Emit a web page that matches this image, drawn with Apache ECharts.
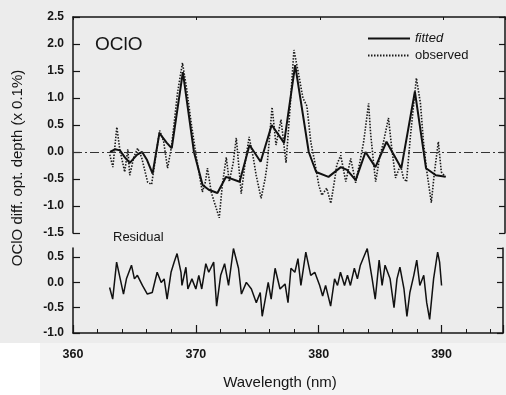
<!DOCTYPE html>
<html><head><meta charset="utf-8">
<script src="https://cdn.jsdelivr.net/npm/echarts@6/dist/echarts.min.js"></script>
<style>html,body{margin:0;padding:0;background:#ececec}#c{width:506px;height:395px}</style>
</head><body><div id="c"></div>
<script>
// ---- data ----
const fittedWl = [363.0,363.4,363.8,364.2,364.6,365.2,365.6,366.0,366.45,367.0,367.6,368.0,368.9,369.8,370.5,371.0,371.7,372.4,373.5,374.3,375.2,376.1,377.1,378.0,379.1,379.7,380.7,381.7,382.2,382.9,383.7,384.5,385.4,386.6,387.7,388.6,389.4,390.2];
const fittedVal = [0.0,0.05,0.03,-0.1,-0.2,-0.05,0.0,-0.15,-0.4,0.35,0.17,0.07,1.48,0.0,-0.61,-0.7,-0.76,-0.46,-0.55,0.13,-0.18,0.5,0.17,1.61,0.0,-0.37,-0.46,-0.28,-0.33,-0.52,0.0,-0.28,0.19,-0.3,1.12,-0.3,-0.43,-0.46];

const observedWl = [362.98,363.23,363.55,363.79,364.19,364.44,364.6,364.92,365.24,365.56,366.05,366.37,366.69,367.02,367.34,367.66,367.98,368.47,368.87,369.19,369.6,370.0,370.48,370.73,370.89,371.21,371.45,371.85,372.1,372.42,372.66,372.98,373.23,373.63,373.95,374.27,374.6,374.84,375.24,375.56,375.73,376.13,376.45,376.85,377.26,377.58,377.9,378.23,378.63,378.95,379.27,379.6,379.92,380.16,380.56,380.89,381.21,381.37,381.69,382.1,382.5,382.9,383.23,383.55,383.95,384.11,384.35,384.52,384.84,385.16,385.56,385.81,386.13,386.53,386.77,387.02,387.34,387.82,388.15,388.39,388.63,389.03,389.27,389.6,389.84,390.16];
const observedVal = [-0.05,-0.28,0.46,0.05,-0.37,0.05,-0.43,-0.1,0.07,-0.1,-0.56,-0.6,-0.1,0.4,0.2,-0.3,0.1,1.1,1.65,1.2,0.5,-0.1,-0.74,-0.55,-0.3,-0.75,-0.93,-1.22,-0.6,-0.1,-0.55,-0.2,0.26,-0.77,-0.2,0.28,-0.1,-0.43,-0.86,-0.5,-0.24,0.83,0.13,0.6,-0.2,0.8,1.89,1.5,1.0,0.85,0.18,-0.2,-0.62,-0.8,-0.67,-0.95,-0.5,-0.24,-0.06,-0.55,-0.12,-0.57,-0.2,0.19,0.9,0.35,-0.2,-0.55,-0.1,0.19,0.63,0.1,-0.48,-0.24,-0.48,-0.55,0.3,1.37,0.9,0.2,-0.3,-0.94,-0.4,0.19,-0.37,-0.46];

const residualWl = [362.98,363.23,363.55,363.87,364.11,364.35,364.76,365.0,365.24,365.65,366.05,366.45,366.85,367.18,367.42,367.66,367.98,368.23,368.47,368.79,368.87,369.19,369.35,369.68,370.0,370.24,370.48,370.81,371.05,371.45,371.69,372.02,372.34,372.66,373.06,373.47,373.71,374.11,374.52,374.92,375.24,375.4,375.65,375.89,376.13,376.45,376.85,377.26,377.5,377.74,378.06,378.31,378.55,378.95,379.35,379.68,380.08,380.32,380.56,380.97,381.29,381.53,381.77,382.1,382.34,382.58,382.9,383.15,383.39,383.95,384.35,384.6,384.92,385.16,385.4,385.81,386.13,386.37,386.61,386.94,387.18,387.42,387.74,387.98,388.23,388.55,388.79,389.03,389.35,389.68,389.84,390.0];
const residualVal = [-0.1,-0.33,0.4,0.04,-0.23,0.07,0.34,0.07,0.14,-0.06,-0.23,-0.2,0.2,0.0,0.07,-0.33,0.2,0.4,0.57,0.2,-0.06,0.3,-0.13,0.07,-0.13,0.14,-0.13,0.37,0.2,0.4,-0.47,0.14,0.37,-0.06,0.67,0.28,-0.23,0.0,-0.13,-0.4,-0.2,-0.67,-0.33,0.0,-0.33,0.28,-0.13,-0.03,-0.4,0.28,0.2,0.47,-0.06,0.6,0.14,0.2,-0.06,-0.27,-0.06,-0.47,0.07,-0.06,0.2,-0.06,0.14,-0.06,0.28,0.07,0.34,0.67,0.07,-0.33,0.44,-0.06,0.34,0.07,-0.5,0.07,0.3,-0.13,-0.67,-0.2,0.14,0.44,-0.06,0.14,-0.4,-0.73,0.07,0.6,0.4,-0.06];

const xTicks = [360,370,380,390];
const topYTicks = [-1.5,-1.0,-0.5,0.0,0.5,1.0,1.5,2.0,2.5];
const resYTicks = [-1.0,-0.5,0.0,0.5];

const pairs = (a,b)=>a.map((v,i)=>[v,b[i]]);
const FONT = '"Liberation Sans", Arial, sans-serif';
const INK = '#151515';

const axisLine = {show:true, onZero:false, lineStyle:{color:INK, width:1.5}};
const lbl = (ticks)=>({show:true, margin:9, color:INK, fontFamily:FONT, fontSize:12, fontWeight:'bold',
  formatter:v=>ticks.some(t=>Math.abs(t-v)<1e-6)?v.toFixed(1):''});

const chart = echarts.init(document.getElementById('c'));
chart.setOption({
  backgroundColor:'#ececec',
  animation:false,
  grid:[
    {left:73, top:17, width:432, height:216},
    {left:73, top:248, width:432, height:85}
  ],
  xAxis:[
    {gridIndex:0, type:'value', min:360, max:395, interval:10, position:'top',
     axisLine:axisLine, axisTick:{show:true, inside:true, length:3, lineStyle:{color:INK}},
     axisLabel:{show:false}, splitLine:{show:false}},
    {gridIndex:1, type:'value', min:360, max:395, interval:10, position:'bottom',
     axisLine:axisLine, axisTick:{show:true, inside:true, length:8, lineStyle:{color:INK, width:1.2}},
     minorTick:{show:true, splitNumber:5, length:4, lineStyle:{color:INK, width:1}},
     axisLabel:{show:true, margin:15, color:INK, fontFamily:FONT, fontSize:12.5, fontWeight:'bold',
       formatter:v=>xTicks.includes(v)?String(v):''},
     splitLine:{show:false}}
  ],
  yAxis:[
    {gridIndex:0, type:'value', min:-1.5, max:2.5, interval:0.5, position:'left',
     axisLine:axisLine, axisTick:{show:true, inside:true, length:7, lineStyle:{color:INK, width:1.2}},
     axisLabel:lbl(topYTicks), splitLine:{show:false}},
    {gridIndex:0, type:'value', min:-1.5, max:2.5, interval:0.5, position:'right',
     axisLine:axisLine, axisTick:{show:true, inside:true, length:6, lineStyle:{color:INK, width:1.2}},
     axisLabel:{show:false}, splitLine:{show:false}},
    {gridIndex:1, type:'value', min:-1.0, max:0.68, interval:0.5, position:'left',
     axisLine:axisLine, axisTick:{show:true, inside:true, length:7, lineStyle:{color:INK, width:1.2}},
     axisLabel:Object.assign(lbl(resYTicks),{showMaxLabel:false}), splitLine:{show:false}},
    {gridIndex:1, type:'value', min:-1.0, max:0.68, interval:0.5, position:'right',
     axisLine:axisLine, axisTick:{show:true, inside:true, length:6, lineStyle:{color:INK, width:1.2}},
     axisLabel:{show:false}, splitLine:{show:false}}
  ],
  legend:{
    orient:'vertical', left:362, top:27, itemWidth:42, itemHeight:10, itemGap:4,
    data:['fitted','observed'],
    itemStyle:{opacity:0},
    textStyle:{fontFamily:FONT, fontSize:13, color:INK,
      rich:{i:{fontStyle:'italic', fontFamily:FONT, fontSize:13, color:INK}, n:{fontFamily:FONT, fontSize:13, color:INK}}},
    formatter:n=>n==='fitted'?'{i|fitted}':'{n|observed}'
  },
  series:[
    {name:'observed', type:'line', xAxisIndex:0, yAxisIndex:0, data:pairs(observedWl,observedVal),
     symbol:'none', showSymbol:false, lineStyle:{color:'#1a1a1a', width:1.6, type:[1.5,1.5]}, itemStyle:{color:'#1a1a1a'}, z:3},
    {name:'fitted', type:'line', xAxisIndex:0, yAxisIndex:0, data:pairs(fittedWl,fittedVal),
     symbol:'none', showSymbol:false, lineStyle:{color:'#111', width:2}, itemStyle:{color:'#111'}, z:4,
     markLine:{silent:true, symbol:'none', label:{show:false},
       lineStyle:{color:'#333', width:1.2, type:[9,3,2,3]}, data:[{yAxis:0}]}},
    {name:'residual', type:'line', xAxisIndex:1, yAxisIndex:2, data:pairs(residualWl,residualVal),
     symbol:'none', showSymbol:false, lineStyle:{color:'#111', width:1.5}, itemStyle:{color:'#111'}}
  ],
  graphic:[
    {type:'rect', z:-10, shape:{x:0,y:343,width:40,height:52}, style:{fill:'#ffffff'}},
    {type:'rect', z:-10, shape:{x:40,y:343,width:466,height:52}, style:{fill:'#f4f4f4'}},
    {type:'text', left:95, top:35, style:{text:'OClO', font:'19px '+FONT, fill:INK}},
    {type:'text', left:113, top:231, style:{text:'Residual', font:'13px '+FONT, fill:INK}},
    {type:'text', x:280, y:383, style:{text:'Wavelength (nm)', font:'15px '+FONT, fill:INK, align:'center', verticalAlign:'middle'}},
    {type:'text', x:18, y:168, rotation:Math.PI/2, style:{text:'OClO diff. opt. depth (x 0.1%)', font:'15px '+FONT, fill:INK, align:'center', verticalAlign:'middle'}}
  ]
});
</script></body></html>
